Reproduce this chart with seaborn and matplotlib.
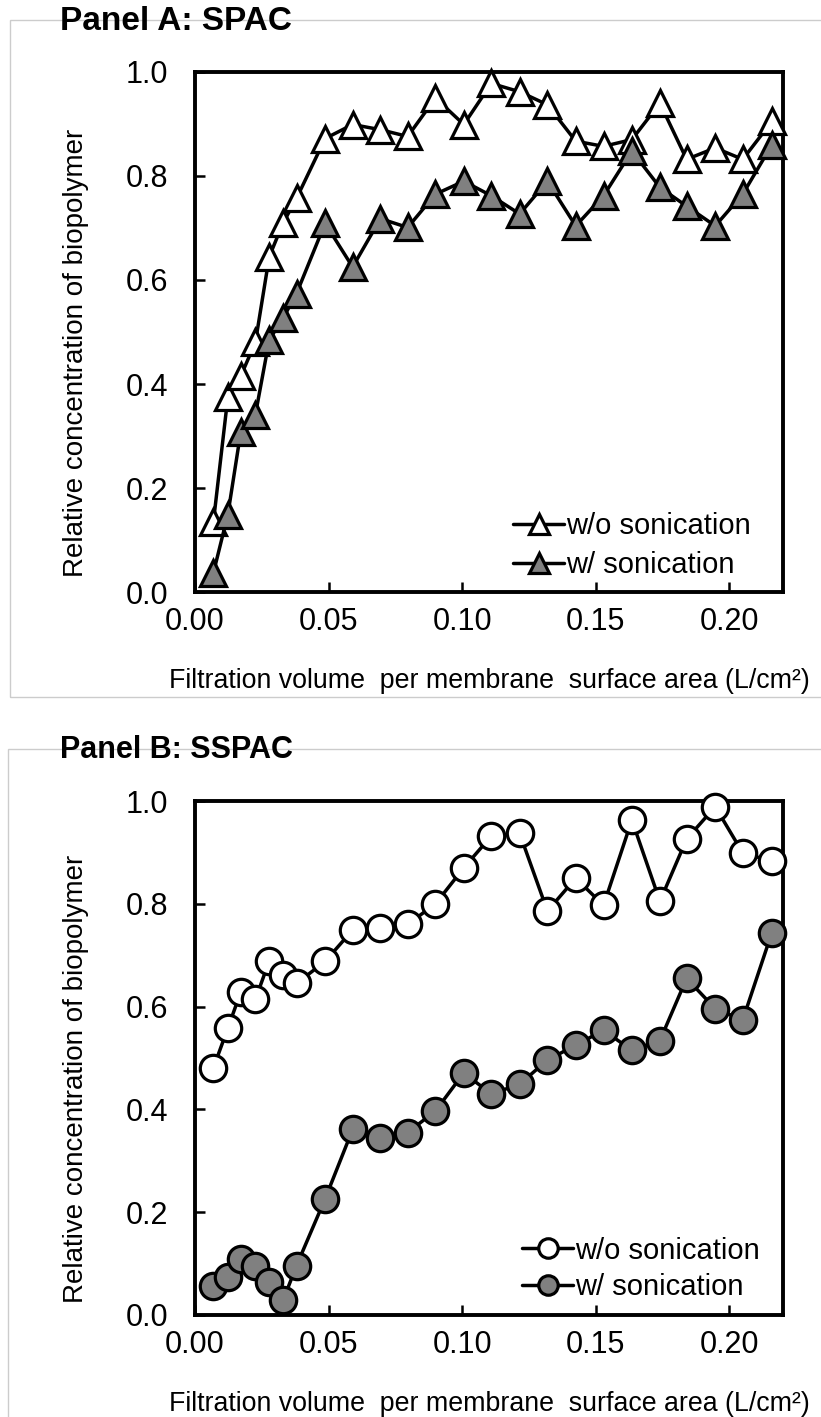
import numpy as np
import pandas as pd
import seaborn as sns
import matplotlib.pyplot as plt
from matplotlib.patches import Rectangle

# filtration volume per membrane surface area (L/cm2), same sampling for both panels
x_vol = [0.0069, 0.0123, 0.0171, 0.0226, 0.0278, 0.0330, 0.0380, 0.0487,
         0.0590, 0.0694, 0.0796, 0.0900, 0.1006, 0.1109, 0.1215, 0.1319,
         0.1425, 0.1529, 0.1635, 0.1740, 0.1840, 0.1947, 0.2050, 0.2159]

# Panel A: SPAC
spac_wo = [0.135, 0.375, 0.415, 0.480, 0.645, 0.710, 0.757, 0.872,
           0.899, 0.889, 0.876, 0.950, 0.899, 0.978, 0.962, 0.937,
           0.867, 0.857, 0.870, 0.940, 0.832, 0.854, 0.832, 0.905]
spac_w = [0.037, 0.149, 0.307, 0.341, 0.485, 0.527, 0.574, 0.709,
          0.625, 0.718, 0.701, 0.765, 0.790, 0.762, 0.727, 0.790,
          0.704, 0.762, 0.848, 0.778, 0.742, 0.704, 0.765, 0.860]

# Panel B: SSPAC
sspac_wo = [0.481, 0.558, 0.628, 0.614, 0.689, 0.662, 0.645, 0.688,
            0.749, 0.752, 0.760, 0.800, 0.870, 0.932, 0.937, 0.786,
            0.850, 0.797, 0.963, 0.805, 0.926, 0.989, 0.899, 0.883]
sspac_w = [0.056, 0.074, 0.109, 0.096, 0.065, 0.029, 0.096, 0.226,
           0.361, 0.344, 0.355, 0.397, 0.471, 0.430, 0.449, 0.496,
           0.525, 0.554, 0.515, 0.534, 0.655, 0.596, 0.574, 0.744]

series_labels = ['w/o sonication', 'w/ sonication']
x_ticks = [0.00, 0.05, 0.10, 0.15, 0.20]
y_ticks = [0.0, 0.2, 0.4, 0.6, 0.8, 1.0]

sns.set_style('ticks', {'text.color': 'black', 'axes.labelcolor': 'black',
                        'xtick.color': 'black', 'ytick.color': 'black'})
plt.rcParams['font.family'] = ['Liberation Sans', 'DejaVu Sans']

fig = plt.figure(figsize=(8.21, 14.17), dpi=100)

# light grey chart-area frames
fig.patches.append(Rectangle((0.0122, 0.5081), 1.0, 0.4778, transform=fig.transFigure,
                             fill=False, edgecolor='#cccccc', lw=1.0))
fig.patches.append(Rectangle((0.0097, -0.05), 1.0, 0.5214, transform=fig.transFigure,
                             fill=False, edgecolor='#cccccc', lw=1.0))

ax_a = fig.add_axes([0.2375, 0.5822, 0.716, 0.367])
ax_b = fig.add_axes([0.2375, 0.0720, 0.716, 0.3627])

panels = [
    (ax_a, spac_wo, spac_w, '^', 19, 'Panel A: SPAC', 24, 0.9845, (0.98, -0.014), 0.38),
    (ax_b, sspac_wo, sspac_w, 'o', 19, 'Panel B: SSPAC', 22, 0.4705, (0.995, -0.012), 0.28),
]

for ax, wo, w, mk, ms, title, tsize, ty, leg_pos, lsp in panels:
    for vals, face, lab in [(wo, 'white', series_labels[0]), (w, '#808080', series_labels[1])]:
        sns.lineplot(x=x_vol, y=vals, ax=ax, color='black', lw=2.5, marker=mk,
                     markersize=ms, markerfacecolor=face, markeredgecolor='black',
                     markeredgewidth=2.3, label=lab, clip_on=False, zorder=3)
    ax.set_xlim(0, 0.22)
    ax.set_ylim(0, 1.0)
    ax.set_xticks(x_ticks)
    ax.set_yticks(y_ticks)
    ax.set_xticklabels([f'{t:.2f}' for t in x_ticks])
    ax.set_yticklabels([f'{t:.1f}' for t in y_ticks])
    ax.tick_params(axis='both', direction='in', length=7, width=1.8, labelsize=22)
    ax.tick_params(axis='x', pad=11)
    ax.tick_params(axis='y', pad=19)
    for s in ax.spines.values():
        s.set_visible(True)
        s.set_linewidth(2.8)
        s.set_color('black')
    ax.set_xlabel('Filtration volume  per membrane  surface area (L/cm²)', fontsize=19.3, labelpad=22)
    ax.set_ylabel('Relative concentration of biopolymer', fontsize=20)
    ax.yaxis.set_label_coords(-0.18, 0.46)
    leg = ax.legend(loc='lower right', bbox_to_anchor=leg_pos, frameon=False, fontsize=21,
                    handlelength=1.75, handletextpad=0.05, borderaxespad=0.3, labelspacing=lsp)
    for h in leg.legend_handles:
        h.set_markersize(14)
        h.set_markeredgewidth(2.3)
    fig.text(0.073, ty, title, fontsize=tsize, fontweight='bold', va='center', ha='left',
             color='black')

fig.savefig('out.png', dpi=100)
